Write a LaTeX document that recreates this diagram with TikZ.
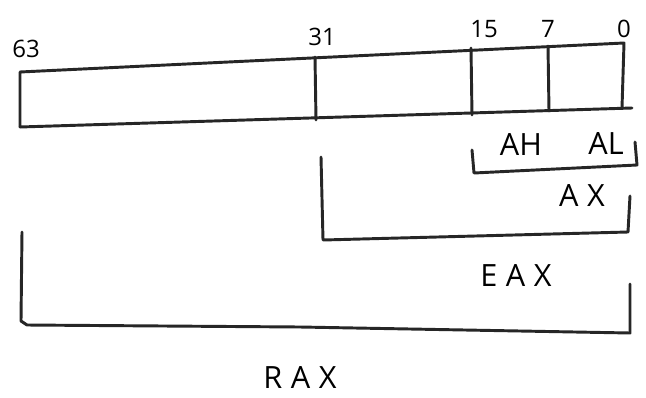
\documentclass[tikz,border=0pt]{standalone}
\usepackage{fontspec}
\setmainfont{Open Sans}
\newfontfamily\widefont[LetterSpace=28]{Open Sans}
\begin{document}
\begin{tikzpicture}[x=0.75pt,y=-0.75pt,
  pen/.style={line width=2.2pt,line cap=round,line join=round,black!85},
  bitno/.style={font=\fontsize{18}{18}\selectfont,inner sep=0pt},
  regname/.style={font=\fontsize{23}{23}\selectfont,inner sep=0pt},
  widename/.style={font=\widefont\fontsize{23}{23}\selectfont,inner sep=0pt}]
\fill[white] (0,0) rectangle (646,397);
\useasboundingbox (0,0) rectangle (646,397);

% register outline, drawn slightly slanted
\coordinate (tl) at (20,72);
\coordinate (bl) at (20,127);
\coordinate (tr) at (624,43);
\coordinate (br) at (632,108);
\draw[pen] (bl) -- (tl) -- (tr) -- (622,108);
\draw[pen] (bl) -- (br);

% byte boundaries
\draw[pen] (315,57) -- (316,120);
\draw[pen] (471,48) -- (472,115);
\draw[pen] (548,46) -- (549,111);

% bit numbers
\node[bitno] (b63) at (26,49) {63};
\node[bitno] (b31) at (322,37) {31};
\node[bitno] (b15) at (484,29) {15};
\node[bitno] (b7) at (548,29) {7};
\node[bitno] (b0) at (624,29) {0};

% AH / AL and the AX bracket
\node[regname] (ah) at (521,145) {AH};
\node[regname] (al) at (606,144) {AL};
\draw[pen] (472,150) -- (474,173) -- (637,165) -- (635,142);
\node[widename] (ax) at (582,196) {AX};

% EAX bracket
\draw[pen] (321,157) -- (323,240) -- (628,232) -- (630,196);
\node[widename] (eax) at (516,276) {EAX};

% RAX bracket
\draw[pen] (22,232) -- (21,321) -- (27,325) -- (300,327) -- (630,333) -- (630,284);
\node[widename] (rax) at (300,378) {RAX};
\end{tikzpicture}
\end{document}
